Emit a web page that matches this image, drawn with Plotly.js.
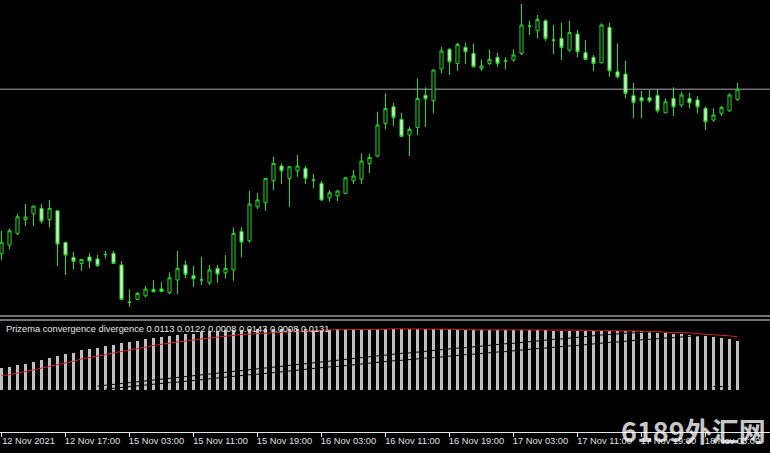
<!DOCTYPE html>
<html>
<head>
<meta charset="utf-8">
<script src="https://cdn.plot.ly/plotly-3.0.1.min.js"></script>
<style>html,body{margin:0;padding:0;background:#000;}#chart{width:770px;height:453px;}</style>
</head>
<body>
<div id="chart"></div>
<script>
// ---- Price candles (H1), index = bar number ----
const openP  = [0.92731,0.92775,0.92833,0.92903,0.92930,0.92958,0.92903,0.92946,0.92788,0.92713,0.92683,0.92715,0.92705,0.92728,0.92733,0.92675,0.92490,0.92503,0.92521,0.92553,0.92555,0.92538,0.92600,0.92675,0.92621,0.92600,0.92586,0.92658,0.92636,0.92650,0.92843,0.92796,0.92966,0.92986,0.93096,0.93170,0.93108,0.93146,0.93158,0.93100,0.93083,0.93011,0.93020,0.93033,0.93096,0.93105,0.93183,0.93220,0.93383,0.93466,0.93403,0.93325,0.93363,0.93523,0.93496,0.93655,0.93753,0.93683,0.93763,0.93733,0.93658,0.93683,0.93713,0.93696,0.93700,0.93733,0.93870,0.93846,0.93896,0.93800,0.93808,0.93750,0.93830,0.93736,0.93713,0.93686,0.93863,0.93641,0.93630,0.93521,0.93511,0.93511,0.93523,0.93436,0.93508,0.93475,0.93508,0.93500,0.93458,0.93400,0.93433,0.93446,0.93503];
const highP  = [0.92845,0.92858,0.92930,0.92980,0.92970,0.92980,0.93000,0.92946,0.92788,0.92741,0.92703,0.92733,0.92725,0.92745,0.92746,0.92695,0.92553,0.92541,0.92570,0.92600,0.92591,0.92638,0.92745,0.92696,0.92670,0.92716,0.92675,0.92675,0.92725,0.92863,0.92863,0.93046,0.93035,0.93110,0.93216,0.93183,0.93170,0.93225,0.93170,0.93130,0.93096,0.93050,0.93049,0.93116,0.93150,0.93233,0.93232,0.93441,0.93533,0.93486,0.93436,0.93366,0.93608,0.93563,0.93652,0.93766,0.93761,0.93786,0.93786,0.93783,0.93703,0.93753,0.93736,0.93713,0.93753,0.93980,0.93896,0.93925,0.93903,0.93875,0.93886,0.93896,0.93850,0.93800,0.93725,0.93883,0.93886,0.93783,0.93696,0.93586,0.93546,0.93550,0.93553,0.93508,0.93563,0.93541,0.93536,0.93520,0.93467,0.93458,0.93470,0.93533,0.93586];
const lowP   = [0.92701,0.92753,0.92825,0.92870,0.92870,0.92883,0.92863,0.92670,0.92625,0.92653,0.92646,0.92658,0.92666,0.92708,0.92680,0.92500,0.92466,0.92500,0.92513,0.92540,0.92540,0.92530,0.92530,0.92608,0.92566,0.92575,0.92575,0.92586,0.92608,0.92596,0.92713,0.92786,0.92955,0.92946,0.93050,0.93080,0.92966,0.93116,0.93080,0.93058,0.92996,0.92991,0.92995,0.93030,0.93080,0.93080,0.93133,0.93213,0.93353,0.93370,0.93316,0.93220,0.93325,0.93366,0.93433,0.93633,0.93625,0.93646,0.93680,0.93663,0.93646,0.93675,0.93666,0.93653,0.93691,0.93725,0.93825,0.93808,0.93796,0.93730,0.93700,0.93741,0.93713,0.93700,0.93646,0.93683,0.93616,0.93608,0.93508,0.93408,0.93408,0.93486,0.93436,0.93433,0.93420,0.93463,0.93458,0.93433,0.93350,0.93391,0.93420,0.93441,0.93496];
const closeP = [0.92789,0.92846,0.92916,0.92915,0.92970,0.92895,0.92958,0.92780,0.92725,0.92693,0.92703,0.92695,0.92673,0.92727,0.92683,0.92503,0.92488,0.92533,0.92555,0.92541,0.92542,0.92611,0.92658,0.92628,0.92606,0.92601,0.92650,0.92630,0.92658,0.92833,0.92790,0.92980,0.93000,0.93108,0.93183,0.93146,0.93166,0.93170,0.93108,0.93099,0.93000,0.93036,0.93045,0.93111,0.93120,0.93195,0.93213,0.93375,0.93458,0.93413,0.93318,0.93353,0.93508,0.93506,0.93650,0.93745,0.93691,0.93778,0.93741,0.93666,0.93670,0.93703,0.93683,0.93695,0.93725,0.93875,0.93869,0.93903,0.93808,0.93799,0.93763,0.93838,0.93741,0.93703,0.93683,0.93875,0.93646,0.93616,0.93533,0.93488,0.93496,0.93496,0.93446,0.93491,0.93466,0.93525,0.93486,0.93466,0.93391,0.93425,0.93463,0.93525,0.93554];

// ---- Time axis labels (every 8 bars) ----
const tickBars   = [0,8,16,24,32,40,48,56,64,72,80,88];
const tickLabels = ["12 Nov 2021","12 Nov 17:00","15 Nov 03:00","15 Nov 11:00","15 Nov 19:00","16 Nov 03:00","16 Nov 11:00","16 Nov 19:00","17 Nov 03:00","17 Nov 11:00","17 Nov 19:00","18 Nov 03:00"];

// ---- Prizema convergence divergence ----
const histVals = [0.0050,0.0053,0.0057,0.0060,0.0065,0.0069,0.0074,0.0078,0.0082,0.0085,0.0091,0.0095,0.0097,0.0101,0.0103,0.0107,0.0111,0.0113,0.0116,0.0118,0.0121,0.0124,0.0126,0.0128,0.0129,0.0132,0.0134,0.0136,0.0137,0.0137,0.0138,0.0139,0.0139,0.0140,0.0140,0.0139,0.0139,0.0139,0.0139,0.0138,0.0138,0.0138,0.0139,0.0139,0.0139,0.0140,0.0140,0.0140,0.0140,0.0140,0.0140,0.0139,0.0140,0.0140,0.0140,0.0140,0.0139,0.0138,0.0138,0.0137,0.0137,0.0137,0.0137,0.0137,0.0137,0.0138,0.0138,0.0137,0.0137,0.0136,0.0136,0.0136,0.0136,0.0136,0.0136,0.0136,0.0136,0.0135,0.0135,0.0134,0.0134,0.0133,0.0131,0.0130,0.0128,0.0128,0.0126,0.0124,0.0123,0.0121,0.0118,0.0116,0.0113];
const signalVals = [0.0033,0.0035,0.0039,0.0042,0.0046,0.0050,0.0054,0.0057,0.0062,0.0066,0.0071,0.0074,0.0078,0.0081,0.0085,0.0088,0.0092,0.0095,0.0098,0.0102,0.0105,0.0108,0.0110,0.0112,0.0115,0.0117,0.0119,0.0121,0.0124,0.0126,0.0127,0.0128,0.0129,0.0131,0.0132,0.0133,0.0134,0.0135,0.0136,0.0137,0.0137,0.0138,0.0138,0.0138,0.0139,0.0139,0.0139,0.0139,0.0139,0.0140,0.0140,0.0139,0.0139,0.0139,0.0139,0.0139,0.0139,0.0139,0.0138,0.0138,0.0138,0.0138,0.0138,0.0138,0.0138,0.0138,0.0138,0.0137,0.0137,0.0137,0.0137,0.0137,0.0137,0.0137,0.0136,0.0136,0.0136,0.0136,0.0136,0.0135,0.0135,0.0134,0.0134,0.0132,0.0132,0.0132,0.0131,0.0129,0.0128,0.0127,0.0126,0.0124,0.0122];
const fastStart = 12;
const fastVals = [0.0009,0.0011,0.0013,0.0015,0.0017,0.0019,0.0021,0.0023,0.0025,0.0027,0.0029,0.0030,0.0032,0.0034,0.0036,0.0038,0.0040,0.0042,0.0044,0.0046,0.0048,0.0050,0.0052,0.0054,0.0056,0.0058,0.0060,0.0062,0.0064,0.0066,0.0068,0.0070,0.0072,0.0074,0.0076,0.0078,0.0080,0.0082,0.0084,0.0085,0.0087,0.0089,0.0091,0.0092,0.0094,0.0096,0.0097,0.0099,0.0101,0.0102,0.0104,0.0106,0.0107,0.0109,0.0111,0.0112,0.0114,0.0116,0.0117,0.0119,0.0121,0.0122,0.0124,0.0126,0.0127,0.0129,0.0130,0.0131,0.0132,0.0133,0.0134,0.0135,0.0136,0.0137,0.0138,0.0139,0.0140,0.0141,0.0141,0.0142,0.0143];
const slowStart = 13;
const slowVals = [0.0002,0.0004,0.0006,0.0008,0.0009,0.0011,0.0013,0.0015,0.0017,0.0018,0.0020,0.0022,0.0024,0.0026,0.0027,0.0029,0.0031,0.0033,0.0035,0.0036,0.0038,0.0040,0.0042,0.0044,0.0045,0.0047,0.0049,0.0051,0.0053,0.0054,0.0056,0.0058,0.0060,0.0062,0.0063,0.0065,0.0067,0.0068,0.0070,0.0071,0.0073,0.0074,0.0076,0.0077,0.0079,0.0081,0.0082,0.0084,0.0085,0.0087,0.0088,0.0090,0.0091,0.0093,0.0095,0.0096,0.0098,0.0099,0.0101,0.0102,0.0104,0.0105,0.0107,0.0109,0.0110,0.0112,0.0113,0.0115,0.0116,0.0118,0.0119,0.0120,0.0122,0.0123,0.0124,0.0126,0.0127,0.0128,0.0130,0.0131];
const lowStart = 89;
const lowVals = [0.0008,0.0008,0.0008,0.0008];
const indicatorLabel = "Prizema convergence divergence 0.0113 0.0122 0.0008 0.0143 0.0008 0.0131";

const idx = (n, s) => Array.from({length:n}, (_, i) => i + (s||0));
const bars = idx(closeP.length);
const FONT = "Liberation Sans, Arial, sans-serif";
const GREEN = "#22dd22";

const traces = [
  {type:"candlestick", x:bars, open:openP, high:highP, low:lowP, close:closeP, xaxis:"x", yaxis:"y",
   increasing:{line:{color:GREEN, width:1}, fillcolor:"#000000"},
   decreasing:{line:{color:GREEN, width:1}, fillcolor:"#d8ffd8"},
   whiskerwidth:0, hoverinfo:"skip", showlegend:false},
  {type:"bar", x:bars, y:histVals, xaxis:"x", yaxis:"y2", width:0.4,
   marker:{color:"#c0c0c0", line:{width:0}}, hoverinfo:"skip", showlegend:false},
  {type:"scatter", mode:"lines", x:idx(fastVals.length, fastStart), y:fastVals, xaxis:"x", yaxis:"y2",
   line:{color:"#000000", width:1}, hoverinfo:"skip", showlegend:false},
  {type:"scatter", mode:"lines", x:idx(slowVals.length, slowStart), y:slowVals, xaxis:"x", yaxis:"y2",
   line:{color:"#000000", width:1}, hoverinfo:"skip", showlegend:false},
  {type:"scatter", mode:"lines", x:idx(lowVals.length, lowStart), y:lowVals, xaxis:"x", yaxis:"y2",
   line:{color:"#000000", width:1, dash:"dot"}, hoverinfo:"skip", showlegend:false},
  {type:"scatter", mode:"lines", x:bars, y:signalVals, xaxis:"x", yaxis:"y2",
   line:{color:"#d42020", width:1}, hoverinfo:"skip", showlegend:false}
];

const PLOT_H = 432;
const mainBottom = 1 - 316/PLOT_H;
const subTop = 1 - 320/PLOT_H;

const layout = {
  width:770, height:453,
  margin:{l:0, r:0, t:0, b:21, pad:0},
  paper_bgcolor:"#000000", plot_bgcolor:"#000000",
  showlegend:false, boxgap:0.45, boxmode:"overlay", bargap:0,
  font:{family:FONT, color:"#e0e0e0", size:9.3},
  xaxis:{
    range:[-0.1875, 96.0625], anchor:"y2", showgrid:false, zeroline:false,
    showline:true, linecolor:"#e6e6e6", linewidth:1,
    ticks:"outside", ticklen:4, tickwidth:1, tickcolor:"#e6e6e6",
    tickmode:"array", tickvals:tickBars, ticktext:tickLabels,
    tickfont:{family:FONT, size:9.3, color:"#e0e0e0"},
    ticklabelshift:27, ticklabeloverflow:"allow", ticklabelstandoff:-4,
    rangeslider:{visible:false}, fixedrange:true
  },
  yaxis:{domain:[mainBottom, 1], range:[0.92420, 0.94000], showgrid:false, zeroline:false,
    showticklabels:false, showline:false, ticks:"", fixedrange:true},
  yaxis2:{domain:[0, subTop], range:[-0.00962, 0.01603], showgrid:false, zeroline:false,
    showticklabels:false, showline:false, ticks:"", fixedrange:true},
  shapes:[
    {type:"line", xref:"paper", yref:"y", x0:0, x1:1, y0:closeP[closeP.length-1], y1:closeP[closeP.length-1],
     line:{color:"#a8a8b4", width:1}, layer:"below"},
    {type:"line", xref:"paper", yref:"paper", x0:0, x1:1, y0:mainBottom, y1:mainBottom, line:{color:"#e6e6e6", width:1}},
    {type:"line", xref:"paper", yref:"paper", x0:0, x1:1, y0:subTop, y1:subTop, line:{color:"#e6e6e6", width:1}}
  ],
  annotations:[
    {xref:"paper", yref:"paper", x:4/770, y:1-329/PLOT_H, xanchor:"left", yanchor:"middle",
     text:indicatorLabel, showarrow:false, font:{family:FONT, size:9.3, color:"#e8e8e8"}},
    {xref:"paper", yref:"paper", x:768/770, y:1-452/PLOT_H, xanchor:"right", yanchor:"bottom",
     text:"<b>6189外汇网</b>", showarrow:false,
     font:{family:"Noto Sans CJK SC, sans-serif", size:27, color:"rgba(255,255,255,0.8)"}}
  ]
};

Plotly.newPlot("chart", traces, layout, {staticPlot:true, displayModeBar:false});
</script>
</body>
</html>
